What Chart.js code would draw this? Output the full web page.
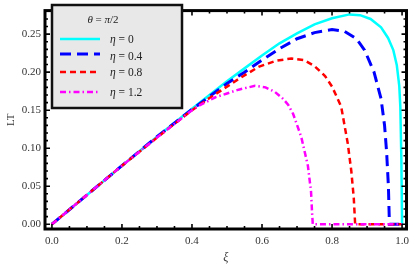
<!DOCTYPE html>
<html>
<head>
<meta charset="utf-8">
<script src="https://cdn.jsdelivr.net/npm/chart.js@4/dist/chart.umd.min.js"></script>
<style>
  html, body { margin: 0; padding: 0; background: #fff; }
  canvas { display: block; }
</style>
</head>
<body>
<canvas id="ltChart" width="415" height="268"></canvas>
<script>
// values, theta = pi/2
const xiEta0 = [0, 0.1, 0.2, 0.3, 0.4, 0.5, 0.55, 0.6, 0.65, 0.7, 0.75, 0.8, 0.85, 0.88, 0.91, 0.94, 0.96, 0.975, 0.985, 0.992, 0.995, 0.998, 1.0]
const ltEta0 = [0, 0.0385, 0.077, 0.115, 0.152, 0.188, 0.205, 0.222, 0.238, 0.251, 0.263, 0.271, 0.276, 0.275, 0.270, 0.259, 0.245, 0.229, 0.209, 0.182, 0.155, 0.085, 0]

const xiEta04 = [0, 0.1, 0.2, 0.3, 0.4, 0.45, 0.5, 0.55, 0.6, 0.65, 0.7, 0.75, 0.8, 0.835, 0.87, 0.893, 0.92, 0.94, 0.95, 0.956, 0.961, 0.963, 0.964, 1.0]
const ltEta04 = [0, 0.0385, 0.077, 0.115, 0.151, 0.168, 0.185, 0.200, 0.216, 0.231, 0.244, 0.252, 0.256, 0.254, 0.244, 0.229, 0.200, 0.165, 0.130, 0.094, 0.050, 0.015, 0, 0]

const xiEta08 = [0, 0.1, 0.2, 0.3, 0.4, 0.45, 0.5, 0.533, 0.59, 0.64, 0.684, 0.72, 0.75, 0.78, 0.8, 0.826, 0.845, 0.855, 0.862, 0.866, 1.0]
const ltEta08 = [0, 0.0385, 0.077, 0.114, 0.150, 0.166, 0.181, 0.191, 0.207, 0.215, 0.218, 0.216, 0.208, 0.195, 0.181, 0.155, 0.106, 0.070, 0.035, 0, 0]

const xiEta12 = [0, 0.1, 0.2, 0.3, 0.4, 0.42, 0.467, 0.5, 0.533, 0.58, 0.61, 0.637, 0.66, 0.675, 0.689, 0.712, 0.731, 0.74, 0.743, 0.745, 1.0]
const ltEta12 = [0, 0.0385, 0.077, 0.114, 0.150, 0.156, 0.167, 0.172, 0.177, 0.182, 0.180, 0.174, 0.165, 0.157, 0.145, 0.115, 0.077, 0.043, 0.015, 0, 0]

const seriesNames = ['η = 0', 'η = 0.4', 'η = 0.8', 'η = 1.2']
const xTicks = [0, 0.2, 0.4, 0.6, 0.8, 1.0]
const yTicks = [0, 0.05, 0.10, 0.15, 0.20, 0.25]

const colors = ['#00ffff', '#0000ff', '#ff0000', '#ff00ff']
const dashes = [[], [11, 6], [6, 4], [6, 3, 1.5, 3]]
const widths = [2.5, 3, 2.5, 2.5]

const serif = '"Liberation Serif", "DejaVu Serif", serif'

function pts(xs, ys) {
    return xs.map((v, i) => ({ x: v, y: ys[i] }))
}

const allX = [xiEta0, xiEta04, xiEta08, xiEta12]
const allY = [ltEta0, ltEta04, ltEta08, ltEta12]

const datasets = seriesNames.map((name, i) => ({
    label: name,
    data: pts(allX[i], allY[i]),
    borderColor: colors[i],
    borderWidth: widths[i],
    borderDash: dashes[i],
    pointRadius: 0,
    tension: 0,
    fill: false,
    order: 4 - i // magenta on top
}))

// draw a string made of [text, italic] parts
function drawParts(ctx, parts, x, y, size, align) {
    let total = 0
    for (const [t, it] of parts) {
        ctx.font = (it ? 'italic ' : '') + size + 'px ' + serif
        total += ctx.measureText(t).width
    }
    let cx = align === 'center' ? x - total / 2 : x
    ctx.textAlign = 'left'
    for (const [t, it] of parts) {
        ctx.font = (it ? 'italic ' : '') + size + 'px ' + serif
        ctx.fillText(t, cx, y)
        cx += ctx.measureText(t).width
    }
}

const frameAndLegend = {
    id: 'frameAndLegend',
    afterDraw(chart) {
        const { ctx, chartArea: a, scales: { x, y } } = chart
        ctx.save()

        // inward ticks on all four sides
        ctx.strokeStyle = '#000'
        ctx.lineWidth = 1.6
        ctx.beginPath()
        for (let k = 0; k <= 20; k++) {
            const v = k * 0.05
            const px = x.getPixelForValue(v)
            const len = k % 4 === 0 ? 5 : 3
            ctx.moveTo(px, a.bottom); ctx.lineTo(px, a.bottom - len)
            ctx.moveTo(px, a.top); ctx.lineTo(px, a.top + len)
        }
        for (let k = 0; k <= 28; k++) {
            const v = k * 0.01
            const py = y.getPixelForValue(v)
            if (py < a.top + 1) continue
            const len = k % 5 === 0 ? 5 : 3
            ctx.moveTo(a.left, py); ctx.lineTo(a.left + len, py)
            ctx.moveTo(a.right, py); ctx.lineTo(a.right - len, py)
        }
        ctx.stroke()

        // frame
        ctx.lineWidth = 3
        ctx.strokeRect(a.left, a.top, a.right - a.left, a.bottom - a.top)

        // legend box
        const bx = 52, by = 5, bw = 130, bh = 103
        ctx.fillStyle = '#e8e8e8'
        ctx.fillRect(bx, by, bw, bh)
        ctx.lineWidth = 2.5
        ctx.strokeStyle = '#111'
        ctx.strokeRect(bx, by, bw, bh)

        ctx.fillStyle = '#222'
        ctx.textBaseline = 'middle'
        drawParts(ctx, [['θ', true], [' = ', false], ['π', true], ['/2', false]], 103, 20, 11, 'center')

        const rows = [39, 54, 72, 92]
        seriesNames.forEach((name, i) => {
            ctx.beginPath()
            ctx.strokeStyle = colors[i]
            ctx.lineWidth = widths[i]
            ctx.setLineDash(dashes[i])
            ctx.moveTo(60, rows[i])
            ctx.lineTo(100, rows[i])
            ctx.stroke()
            ctx.setLineDash([])
            ctx.fillStyle = '#222'
            drawParts(ctx, [['η', true], [name.slice(1), false]], 110, rows[i] + (i === 1 ? 3 : 1), 11.5, 'left')
        })
        ctx.restore()
    }
}

new Chart(document.getElementById('ltChart').getContext('2d'), {
    type: 'line',
    data: { datasets: datasets },
    options: {
        responsive: false,
        animation: false,
        events: [],
        layout: { padding: { top: 2, right: 5, left: 0, bottom: 0 } },
        plugins: { legend: { display: false }, tooltip: { enabled: false } },
        scales: {
            x: {
                type: 'linear',
                min: -0.0198,
                max: 1.0127,
                grid: { display: false, drawTicks: false },
                border: { display: false },
                afterBuildTicks: s => { s.ticks = xTicks.map(v => ({ value: v })) },
                afterFit: s => { s.height = 39 },
                ticks: {
                    padding: 6,
                    color: '#333',
                    font: { family: serif, size: 11 },
                    callback: v => v.toFixed(1)
                },
                title: {
                    display: true,
                    text: 'ξ',
                    color: '#333',
                    font: { family: serif, size: 12, style: 'italic' },
                    padding: { top: 0, bottom: 3 }
                }
            },
            y: {
                type: 'linear',
                min: -0.0063,
                max: 0.281,
                grid: { display: false, drawTicks: false },
                border: { display: false },
                afterBuildTicks: s => { s.ticks = yTicks.map(v => ({ value: v })) },
                afterFit: s => { s.width = 45 },
                ticks: {
                    padding: 4,
                    color: '#333',
                    font: { family: serif, size: 11 },
                    callback: v => v.toFixed(2)
                },
                title: {
                    display: true,
                    text: 'LT',
                    color: '#333',
                    font: { family: serif, size: 11 },
                    padding: { top: 5, bottom: 0 }
                }
            }
        }
    },
    plugins: [frameAndLegend]
})
</script>
</body>
</html>
